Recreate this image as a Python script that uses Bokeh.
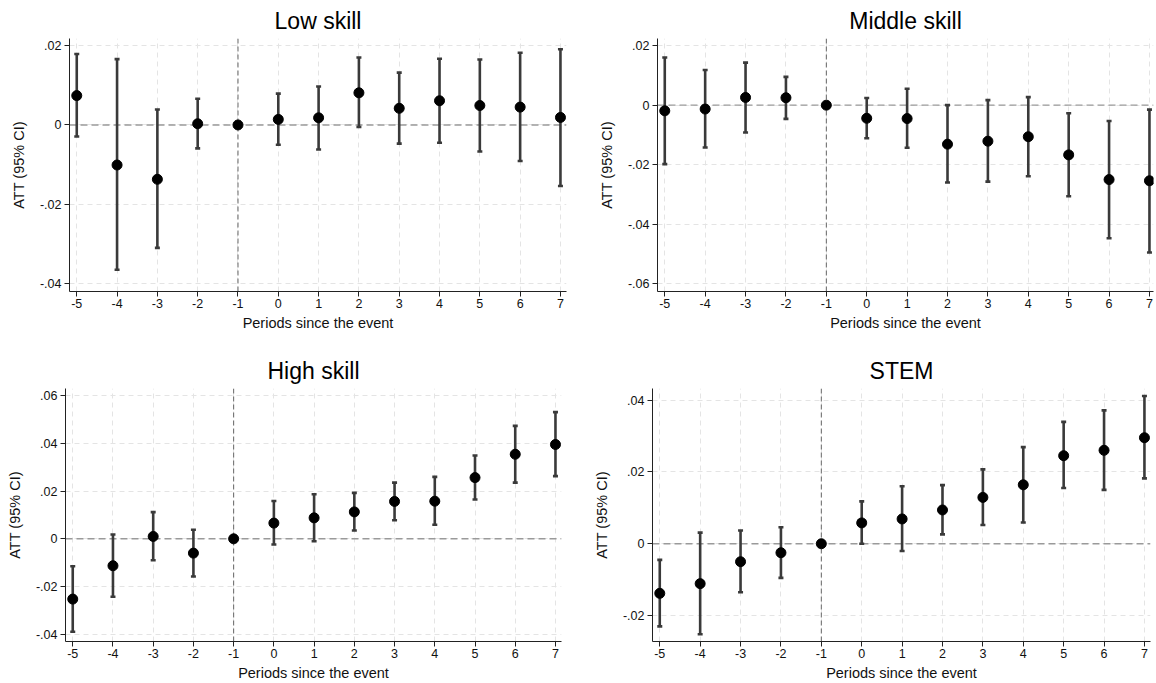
from bokeh.plotting import figure
from bokeh.layouts import column, row
from bokeh.models import ColumnDataSource, Whisker, TeeHead, Span, FixedTicker, Range1d
from bokeh.embed import file_html
from bokeh.resources import INLINE

periods = [-5, -4, -3, -2, -1, 0, 1, 2, 3, 4, 5, 6, 7]

low_att = [0.0074, -0.0101, -0.0137, 0.0003, 0.0, 0.0014, 0.0018, 0.0081, 0.0042, 0.0061, 0.0049, 0.0045, 0.0019]
low_hi = [0.0179, 0.0166, 0.0039, 0.0066, 0.0, 0.0079, 0.0097, 0.0170, 0.0132, 0.0167, 0.0165, 0.0182, 0.0191]
low_lo = [-0.0029, -0.0365, -0.0310, -0.0059, 0.0, -0.0050, -0.0062, -0.0005, -0.0047, -0.0045, -0.0067, -0.0091, -0.0154]

mid_att = [-0.0019, -0.0013, 0.0026, 0.0025, 0.0, -0.0044, -0.0045, -0.0131, -0.0121, -0.0106, -0.0167, -0.0250, -0.0254]
mid_hi = [0.0160, 0.0118, 0.0143, 0.0095, 0.0, 0.0024, 0.0055, 0.0000, 0.0017, 0.0027, -0.0027, -0.0053, -0.0015]
mid_lo = [-0.0198, -0.0142, -0.0092, -0.0046, 0.0, -0.0111, -0.0143, -0.0260, -0.0257, -0.0239, -0.0306, -0.0447, -0.0495]

high_att = [-0.0253, -0.0113, 0.0010, -0.0060, 0.0, 0.0066, 0.0088, 0.0113, 0.0157, 0.0158, 0.0257, 0.0355, 0.0396]
high_hi = [-0.0115, 0.0018, 0.0112, 0.0038, 0.0, 0.0159, 0.0187, 0.0193, 0.0236, 0.0260, 0.0350, 0.0474, 0.0532]
high_lo = [-0.0390, -0.0243, -0.0090, -0.0158, 0.0, -0.0024, -0.0010, 0.0035, 0.0078, 0.0059, 0.0165, 0.0236, 0.0263]

stem_att = [-0.0138, -0.0111, -0.0050, -0.0025, 0.0, 0.0058, 0.0069, 0.0094, 0.0129, 0.0164, 0.0245, 0.0260, 0.0295]
stem_hi = [-0.0045, 0.0031, 0.0037, 0.0046, 0.0, 0.0118, 0.0160, 0.0163, 0.0207, 0.0269, 0.0339, 0.0371, 0.0411]
stem_lo = [-0.0230, -0.0252, -0.0135, -0.0095, 0.0, 0.0000, -0.0020, 0.0026, 0.0052, 0.0059, 0.0155, 0.0150, 0.0182]

titles = ["Low skill", "Middle skill", "High skill", "STEM"]

low_yticks = [0.02, 0.0, -0.02, -0.04]
low_ylabels = [".02", "0", "-.02", "-.04"]
mid_yticks = [0.02, 0.0, -0.02, -0.04, -0.06]
mid_ylabels = [".02", "0", "-.02", "-.04", "-.06"]
high_yticks = [0.06, 0.04, 0.02, 0.0, -0.02, -0.04]
high_ylabels = [".06", ".04", ".02", "0", "-.02", "-.04"]
stem_yticks = [0.04, 0.02, 0.0, -0.02]
stem_ylabels = [".04", ".02", "0", "-.02"]

x_label = "Periods since the event"
y_label = "ATT (95% CI)"

FONT = "Liberation Sans"


def panel(title, att, lo, hi, yticks, ylabels, yr, xr, width, height, bl, br, bt, bb):
    p = figure(width=width, height=height, output_backend="svg", toolbar_location=None,
               x_range=Range1d(*xr), y_range=Range1d(*yr),
               min_border_left=bl, min_border_right=br, min_border_top=bt, min_border_bottom=bb)
    p.outline_line_color = None
    p.background_fill_color = "white"
    p.border_fill_color = "white"
    p.title.text = title
    p.title.align = "center"
    p.title.text_font = FONT
    p.title.text_font_size = "23px"
    p.title.text_font_style = "normal"
    p.title.text_color = "black"
    p.title.standoff = 9

    for ax in (p.xaxis[0], p.yaxis[0]):
        ax.axis_line_color = "#222222"
        ax.axis_line_width = 1
        ax.major_tick_line_color = "#222222"
        ax.major_tick_out = 5
        ax.major_tick_in = 0
        ax.minor_tick_line_color = None
        ax.major_label_text_font = FONT
        ax.major_label_text_font_size = "12.5px"
        ax.major_label_text_color = "#111111"
        ax.axis_label_text_font = FONT
        ax.axis_label_text_font_size = "14.5px"
        ax.axis_label_text_font_style = "normal"
        ax.axis_label_text_color = "#111111"

    p.xaxis.ticker = FixedTicker(ticks=periods)
    p.xaxis.major_label_overrides = {k: str(k) for k in periods}
    p.xaxis.axis_label = x_label
    p.xaxis.major_label_standoff = 2
    p.xaxis.axis_label_standoff = 4

    p.yaxis.ticker = FixedTicker(ticks=yticks)
    p.yaxis.major_label_overrides = {t: l for t, l in zip(yticks, ylabels)}
    p.yaxis.axis_label = y_label
    p.yaxis.major_label_standoff = 3
    p.yaxis.axis_label_standoff = 10

    for g in (p.xgrid[0], p.ygrid[0]):
        g.grid_line_color = "#e4e4e4"
        g.grid_line_dash = "5 4"
        g.grid_line_width = 1

    p.add_layout(Span(location=0, dimension="width", line_color="#9a9a9a",
                      line_dash="7 4", line_width=1.4, level="underlay"))
    p.add_layout(Span(location=-1, dimension="height", line_color="#666666",
                      line_dash="5 3", line_width=1, level="underlay"))

    src = ColumnDataSource(dict(x=periods, att=att, lo=lo, hi=hi))
    w = Whisker(base="x", upper="hi", lower="lo", source=src, dimension="height",
                line_color="#3a3a3a", line_width=2.6, level="underlay",
                upper_head=TeeHead(size=5, line_color="#3a3a3a", line_width=2.6),
                lower_head=TeeHead(size=5, line_color="#3a3a3a", line_width=2.6))
    p.add_layout(w)
    p.scatter("x", "att", source=src, size=10, fill_color="black", line_color="black")
    return p


p1 = panel(titles[0], low_att, low_lo, low_hi, low_yticks, low_ylabels,
           (-0.0420, 0.0218), (-5.18, 7.15), 578, 350, 69, 12, 38, 59)
p2 = panel(titles[1], mid_att, mid_lo, mid_hi, mid_yticks, mid_ylabels,
           (-0.0626, 0.0224), (-5.18, 7.10), 578, 350, 79, 3, 38, 59)
p3 = panel(titles[2], high_att, high_lo, high_hi, high_yticks, high_ylabels,
           (-0.0431, 0.0631), (-5.18, 7.15), 578, 333, 65, 17, 38, 42)
p4 = panel(titles[3], stem_att, stem_lo, stem_hi, stem_yticks, stem_ylabels,
           (-0.0272, 0.0432), (-5.18, 7.15), 578, 333, 74, 6, 38, 42)

layout = column(row(p1, p2), row(p3, p4))

with open("out.html", "w") as f:
    f.write(file_html(layout, INLINE))
